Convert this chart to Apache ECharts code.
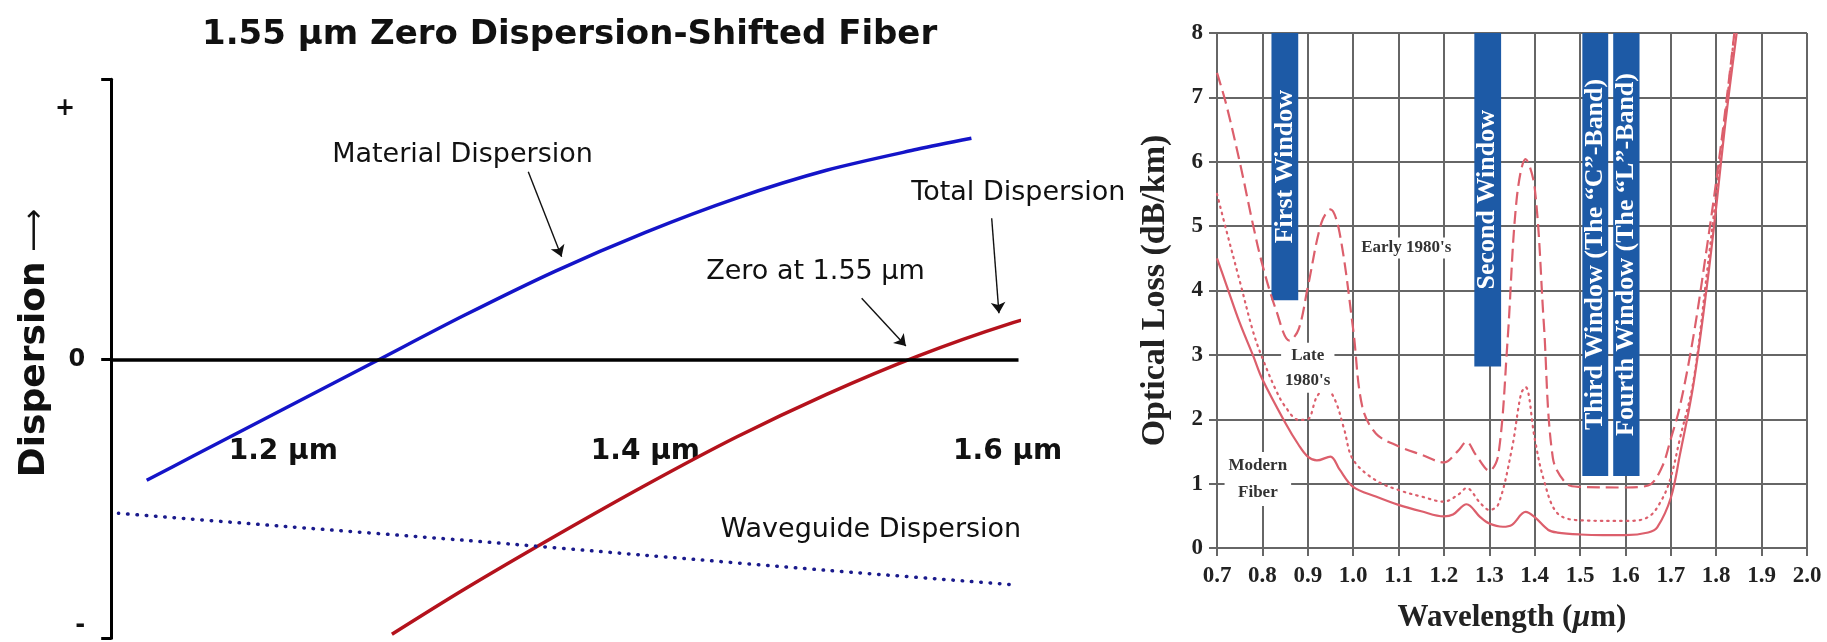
<!DOCTYPE html>
<html>
<head>
<meta charset="utf-8">
<script src="https://cdn.jsdelivr.net/npm/echarts@6/dist/echarts.min.js"></script>
<style>
  html, body { margin: 0; padding: 0; background: #fff; }
  #main { width: 1827px; height: 642px; }
</style>
</head>
<body>
<div id="main"></div>
<script>
// ---- left panel: 1.55 um zero dispersion-shifted fiber (arbitrary units) ----
const materialDisp = [[1.1246, -1.21], [1.15, -0.97], [1.2, -0.5], [1.25, -0.03], [1.3, 0.44],
  [1.35, 0.88], [1.4, 1.27], [1.45, 1.61], [1.5, 1.89], [1.55, 2.1], [1.58, 2.21]];
const totalDisp = [[1.26, -2.75], [1.3, -2.3], [1.35, -1.77], [1.4, -1.26], [1.45, -0.78],
  [1.5, -0.35], [1.55, 0.03], [1.6, 0.35], [1.633, 0.51], [1.672, 0.66]];
const waveguideDisp = [[1.109, -1.54], [1.2, -1.67], [1.3, -1.81], [1.4, -1.96], [1.5, -2.11], [1.605, -2.257]];
const dispXTicks = [1.2, 1.4, 1.6];
const dispYTicks = [2.51, 0, -2.66];
const dispYLabels = ['+', '0', '-'];

// ---- right panel: optical loss vs wavelength ----
const modernFiber = [[0.7, 4.5], [0.72, 4.1], [0.75, 3.5], [0.78, 2.98], [0.8, 2.62], [0.85, 1.95],
  [0.88, 1.6], [0.9, 1.42], [0.92, 1.36], [0.95, 1.42], [0.97, 1.22], [1.0, 0.95], [1.05, 0.8],
  [1.1, 0.67], [1.15, 0.57], [1.2, 0.49], [1.22, 0.52], [1.25, 0.68], [1.28, 0.48], [1.3, 0.38],
  [1.33, 0.33], [1.35, 0.36], [1.38, 0.56], [1.4, 0.48], [1.43, 0.28], [1.45, 0.24], [1.5, 0.21],
  [1.55, 0.2], [1.6, 0.2], [1.65, 0.24], [1.67, 0.32], [1.7, 0.78], [1.72, 1.45], [1.75, 2.55],
  [1.78, 4.1], [1.8, 5.3], [1.82, 6.6], [1.845, 8.0]];
const early1980s = [[0.7, 7.38], [0.72, 6.9], [0.75, 6.0], [0.78, 5.0], [0.8, 4.4], [0.83, 3.7],
  [0.86, 3.22], [0.88, 3.4], [0.9, 4.05], [0.93, 5.05], [0.95, 5.26], [0.97, 4.9], [1.0, 3.4],
  [1.02, 2.2], [1.05, 1.78], [1.1, 1.58], [1.15, 1.45], [1.2, 1.33], [1.23, 1.5], [1.25, 1.65],
  [1.27, 1.45], [1.3, 1.2], [1.32, 1.45], [1.34, 3.2], [1.36, 5.4], [1.38, 6.04], [1.4, 5.6],
  [1.42, 3.5], [1.44, 1.4], [1.47, 1.0], [1.5, 0.95], [1.6, 0.94], [1.65, 0.97], [1.68, 1.25],
  [1.7, 1.7], [1.72, 2.2], [1.75, 3.3], [1.78, 4.7], [1.8, 5.7], [1.82, 6.8], [1.84, 8.0]];
const late1980s = [[0.7, 5.5], [0.72, 4.95], [0.75, 4.15], [0.78, 3.35], [0.8, 2.95], [0.83, 2.45],
  [0.85, 2.2], [0.88, 1.99], [0.9, 2.0], [0.92, 2.35], [0.94, 2.48], [0.96, 2.3], [0.98, 1.85],
  [1.0, 1.37], [1.05, 1.05], [1.1, 0.9], [1.15, 0.8], [1.2, 0.72], [1.23, 0.82], [1.25, 0.93],
  [1.28, 0.7], [1.3, 0.59], [1.32, 0.68], [1.35, 1.55], [1.37, 2.4], [1.38, 2.5], [1.4, 1.7],
  [1.42, 1.06], [1.45, 0.54], [1.5, 0.43], [1.6, 0.42], [1.65, 0.48], [1.68, 0.75], [1.7, 1.1],
  [1.72, 1.7], [1.75, 2.6], [1.78, 4.3], [1.8, 5.5], [1.82, 6.7], [1.84, 8.0]];
const windowNames = ['First Window', 'Second Window', 'Third Window (The \u201cC\u201d-Band)', 'Fourth Window (The \u201cL\u201d-Band)'];
const windowStart = [0.82, 1.267, 1.505, 1.573];
const windowEnd = [0.879, 1.326, 1.562, 1.631];
const windowBottom = [3.85, 2.82, 1.12, 1.12];

const sans = '"DejaVu Sans", sans-serif';
const serif = '"Liberation Serif", serif';
const pink = '#dc5f6c';
const gridGray = '#666';

const chart = echarts.init(document.getElementById('main'));

const arrow = (from, to) => [{ coord: from }, { coord: to }];
const note = (coord, text) => ({ coord: coord, value: text });
const noteStyle = (font, extra) => Object.assign({
  show: true, position: 'inside', formatter: p => p.value
}, font, extra || {});

const leftNote = { fontFamily: sans, fontSize: 27, color: '#111' };
const rightNote = { fontFamily: serif, fontWeight: 'bold', fontSize: 17, color: '#333', backgroundColor: '#fff' };

const option = {
  animation: false,
  backgroundColor: '#fff',
  title: {
    text: '1.55 \u00b5m Zero Dispersion-Shifted Fiber',
    left: 197, top: 13,
    textStyle: { fontFamily: sans, fontWeight: 'bold', fontSize: 34, color: '#111' }
  },
  graphic: [{
    type: 'text', x: 35, y: 343, rotation: Math.PI / 2,
    style: {
      text: '{a|Dispersion}{b| \u27f6}',
      align: 'center', verticalAlign: 'middle',
      rich: {
        a: { fontFamily: sans, fontWeight: 'bold', fontSize: 36, fill: '#111' },
        b: { fontFamily: sans, fontSize: 30, fill: '#111' }
      }
    }
  }],
  grid: [
    { left: 111.2, top: 79.3, width: 907.3, height: 559, outerBoundsMode: 'none', containLabel: false },
    { left: 1217, top: 33, width: 590, height: 515, outerBoundsMode: 'none', containLabel: false }
  ],
  xAxis: [{
    gridIndex: 0, type: 'value', min: 1.105, max: 1.606,
    axisLine: { show: false },
    axisTick: { show: false },
    splitLine: { show: false },
    axisLabel: {
      customValues: dispXTicks, margin: -201,
      formatter: v => v.toFixed(1) + ' \u00b5m',
      fontFamily: sans, fontWeight: 'bold', fontSize: 28, color: '#111'
    }
  }, {
    gridIndex: 1, type: 'value', min: 0.7, max: 2.0, interval: 0.1,
    axisLine: { lineStyle: { color: gridGray, width: 2 } },
    axisTick: { length: 8, lineStyle: { color: gridGray, width: 2 } },
    splitLine: { lineStyle: { color: gridGray, width: 2 } },
    axisLabel: {
      margin: 17, formatter: v => v.toFixed(1),
      fontFamily: serif, fontWeight: 'bold', fontSize: 23, color: '#222'
    },
    name: 'Wavelength ({i|\u00b5}m)', nameLocation: 'middle', nameGap: 54,
    nameTextStyle: {
      fontFamily: serif, fontWeight: 'bold', fontSize: 31, color: '#222',
      rich: { i: { fontFamily: serif, fontWeight: 'bold', fontStyle: 'italic', fontSize: 31, color: '#222' } }
    }
  }],
  yAxis: [{
    gridIndex: 0, type: 'value', min: -2.79, max: 2.8,
    axisLine: { show: true, onZero: false, lineStyle: { color: '#000', width: 3 } },
    axisTick: { show: true, customValues: [2.8, 0, -2.79], length: 10, lineStyle: { color: '#000', width: 3 } },
    splitLine: { show: false },
    axisLabel: {
      customValues: dispYTicks, margin: 26,
      formatter: v => dispYLabels[dispYTicks.indexOf(v)] === '+' ? '{p|+}' : dispYLabels[dispYTicks.indexOf(v)],
      fontFamily: sans, fontWeight: 'bold', fontSize: 24, color: '#111',
      rich: { p: { fontFamily: sans, fontSize: 24, color: '#111', padding: [0, 10, 0, 0] } }
    }
  }, {
    gridIndex: 1, type: 'value', min: 0, max: 8, interval: 1,
    axisLine: { show: true, lineStyle: { color: gridGray, width: 2 } },
    axisTick: { show: true, length: 8, lineStyle: { color: gridGray, width: 2 } },
    splitLine: { lineStyle: { color: gridGray, width: 2 } },
    axisLabel: { margin: 14, fontFamily: serif, fontWeight: 'bold', fontSize: 23, color: '#222' },
    name: 'Optical Loss (dB/km)', nameLocation: 'middle', nameGap: 45,
    nameTextStyle: { fontFamily: serif, fontWeight: 'bold', fontSize: 34, color: '#222' }
  }],
  series: [
    {
      name: 'Material Dispersion', type: 'line', xAxisIndex: 0, yAxisIndex: 0,
      data: materialDisp, smooth: 0.3, showSymbol: false, clip: false,
      lineStyle: { color: '#1414c8', width: 3.5 },
      markPoint: {
        symbol: 'circle', symbolSize: 1, itemStyle: { color: 'rgba(0,0,0,0)' },
        label: noteStyle(leftNote),
        data: [note([1.299, 2.043], 'Material Dispersion')]
      },
      markLine: {
        silent: true, symbol: ['none', 'arrow'], symbolSize: 11,
        lineStyle: { color: '#111', width: 1.4, type: 'solid' }, label: { show: false },
        data: [arrow([1.3353, 1.876], [1.3537, 1.026])]
      }
    },
    {
      name: 'Total Dispersion', type: 'line', xAxisIndex: 0, yAxisIndex: 0,
      data: totalDisp, smooth: 0.3, showSymbol: false, clip: false,
      lineStyle: { color: '#b4121c', width: 3.5 },
      markPoint: {
        symbol: 'circle', symbolSize: 1, itemStyle: { color: 'rgba(0,0,0,0)' },
        label: noteStyle(leftNote),
        data: [note([1.6059, 1.66], 'Total Dispersion'), note([1.4939, 0.876], 'Zero at 1.55 \u00b5m')]
      },
      markLine: {
        silent: true, symbol: ['none', 'arrow'], symbolSize: 11,
        lineStyle: { color: '#111', width: 1.4, type: 'solid' }, label: { show: false },
        data: [arrow([1.5912, 1.41], [1.5952, 0.46]), arrow([1.5194, 0.61], [1.5438, 0.133])]
      }
    },
    {
      name: 'Waveguide Dispersion', type: 'line', xAxisIndex: 0, yAxisIndex: 0,
      data: waveguideDisp, smooth: 0.3, showSymbol: false, clip: false,
      lineStyle: { color: '#1a1a8c', width: 3.5, type: [0.5, 8.8], cap: 'round' },
      markPoint: {
        symbol: 'circle', symbolSize: 1, itemStyle: { color: 'rgba(0,0,0,0)' },
        label: noteStyle(leftNote),
        data: [note([1.5245, -1.707], 'Waveguide Dispersion')]
      },
      // the zero dispersion line across the plot
      markLine: {
        silent: true, symbol: ['none', 'none'],
        lineStyle: { color: '#000', width: 3.5, type: 'solid' }, label: { show: false },
        data: [{ yAxis: 0 }]
      }
    },
    {
      name: 'Windows', type: 'custom', xAxisIndex: 1, yAxisIndex: 1, z: 1,
      data: windowNames.map((n, i) => [windowStart[i], windowEnd[i], windowBottom[i], 8]),
      renderItem: (params, api) => {
        const p0 = api.coord([api.value(0), api.value(3)]);
        const p1 = api.coord([api.value(1), api.value(2)]);
        return {
          type: 'group',
          children: [{
            type: 'rect',
            shape: { x: p0[0], y: p0[1], width: p1[0] - p0[0], height: p1[1] - p0[1] },
            style: { fill: '#1d5aa6' }
          }, {
            type: 'text',
            x: (p0[0] + p1[0]) / 2, y: (p0[1] + p1[1]) / 2, rotation: Math.PI / 2,
            style: {
              text: windowNames[params.dataIndex], fill: '#fff',
              font: 'bold 26px "Liberation Serif", serif', align: 'center', verticalAlign: 'middle'
            }
          }]
        };
      }
    },
    {
      name: 'Modern Fiber', type: 'line', xAxisIndex: 1, yAxisIndex: 1, z: 3,
      data: modernFiber, smooth: 0.35, showSymbol: false,
      lineStyle: { color: pink, width: 2.2 },
      markPoint: {
        symbol: 'circle', symbolSize: 1, itemStyle: { color: 'rgba(0,0,0,0)' },
        label: noteStyle(rightNote, { lineHeight: 27, padding: [0, 4] }),
        data: [note([0.79, 1.07], 'Modern\nFiber')]
      }
    },
    {
      name: "Early 1980's", type: 'line', xAxisIndex: 1, yAxisIndex: 1, z: 3,
      data: early1980s, smooth: 0.35, showSymbol: false,
      lineStyle: { color: pink, width: 2.2, type: [13, 6] },
      markPoint: {
        symbol: 'circle', symbolSize: 1, itemStyle: { color: 'rgba(0,0,0,0)' },
        label: noteStyle(rightNote, { padding: [2, 4] }),
        data: [note([1.117, 4.66], "Early 1980's")]
      }
    },
    {
      name: "Late 1980's", type: 'line', xAxisIndex: 1, yAxisIndex: 1, z: 3,
      data: late1980s, smooth: 0.35, showSymbol: false,
      lineStyle: { color: pink, width: 2.2, type: [1.5, 5], cap: 'round' },
      markPoint: {
        symbol: 'circle', symbolSize: 1, itemStyle: { color: 'rgba(0,0,0,0)' },
        label: noteStyle(rightNote, { lineHeight: 25, padding: [0, 4] }),
        data: [note([0.9, 2.8], "Late\n1980's")]
      }
    }
  ]
};

chart.setOption(option);
</script>
</body>
</html>
